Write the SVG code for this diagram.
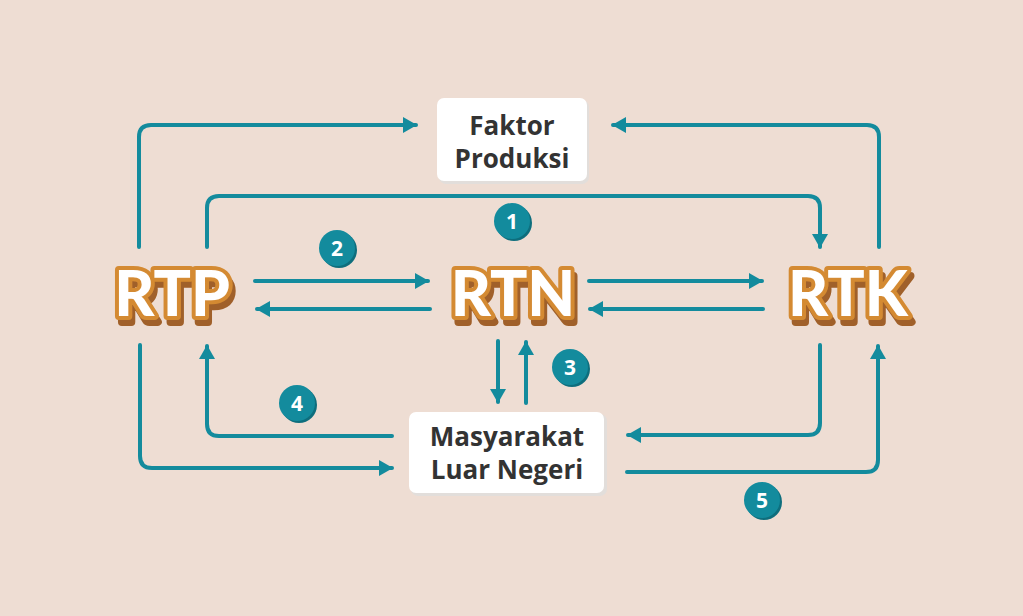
<svg xmlns="http://www.w3.org/2000/svg" width="1023" height="616" viewBox="0 0 1023 616">
<defs>
<style>
.ln{fill:none;stroke:#138B9D;stroke-width:4;stroke-linecap:round;stroke-linejoin:round}
.box{fill:#FFFFFF}
.boxsh{fill:#E2DEDB}
.bt{font-family:"Open Sans",Lato,sans-serif;font-weight:700;font-size:26px;fill:#333333;text-anchor:middle}
.big{font-family:Lato,"Open Sans",sans-serif;font-weight:900;font-size:62px;text-anchor:middle;stroke-linejoin:round;paint-order:stroke;fill:#FFFFFF;stroke:#D48A32;stroke-width:8;filter:url(#sh)}
.num{font-family:"Open Sans",Lato,sans-serif;font-weight:700;font-size:21px;fill:#FFFFFF;text-anchor:middle}
.cir{fill:#138B9D}
.cirsh{fill:#0E6E7D}
</style>
<filter id="sh" x="-20%" y="-20%" width="140%" height="150%">
<feFlood flood-color="#A0602A" result="c"/>
<feComposite in="c" in2="SourceAlpha" operator="in" result="s"/>
<feOffset in="s" dx="3" dy="6" result="o"/>
<feMerge><feMergeNode in="o"/><feMergeNode in="SourceGraphic"/></feMerge>
</filter>
<marker id="ah" viewBox="0 0 14 16" refX="13" refY="8" markerWidth="14" markerHeight="16" markerUnits="userSpaceOnUse" orient="auto">
<path d="M0,0 L14,8 L0,16 Z" fill="#138B9D"/>
</marker>
</defs>
<rect width="1023" height="616" fill="#EEDDD3"/>
<g id="connectors">
<path class="ln" d="M139,247 V137 Q139,125 151,125 H416" marker-end="url(#ah)"/>
<path class="ln" d="M207,247 V208 Q207,196 219,196 H808 Q820,196 820,208 V247" marker-end="url(#ah)"/>
<path class="ln" d="M879,247 V137 Q879,125 867,125 H613" marker-end="url(#ah)"/>
<path class="ln" d="M255,281 H428" marker-end="url(#ah)"/>
<path class="ln" d="M430,309 H257" marker-end="url(#ah)"/>
<path class="ln" d="M589,281 H762" marker-end="url(#ah)"/>
<path class="ln" d="M763,309 H590" marker-end="url(#ah)"/>
<path class="ln" d="M498,341 V402" marker-end="url(#ah)"/>
<path class="ln" d="M526,403 V342" marker-end="url(#ah)"/>
<path class="ln" d="M392,436 H219 Q207,436 207,424 V346" marker-end="url(#ah)"/>
<path class="ln" d="M140,345 V456 Q140,468 152,468 H392" marker-end="url(#ah)"/>
<path class="ln" d="M820,345 V423 Q820,435 808,435 H628" marker-end="url(#ah)"/>
<path class="ln" d="M627,472 H866 Q878,472 878,460 V346" marker-end="url(#ah)"/>
</g>
<g id="faktor-produksi">
<rect class="boxsh" x="439" y="100" width="150" height="84" rx="7"/>
<rect class="box" x="437" y="98" width="150" height="83" rx="7"/>
<text class="bt" x="512" y="135">Faktor</text>
<text class="bt" x="512" y="168">Produksi</text>
</g>
<g id="masyarakat-luar-negeri">
<rect class="boxsh" x="411" y="414" width="196" height="82" rx="7"/>
<rect class="box" x="409" y="412" width="195" height="81" rx="7"/>
<text class="bt" x="507" y="446">Masyarakat</text>
<text class="bt" x="507" y="479">Luar Negeri</text>
</g>
<g id="rtp">
<text class="big" x="172" y="316">RTP</text>
</g>
<g id="rtn">
<text class="big" x="513" y="316">RTN</text>
</g>
<g id="rtk">
<text class="big" x="848" y="316">RTK</text>
</g>
<g id="badge-1">
<circle class="cirsh" cx="514" cy="223" r="18"/>
<circle class="cir" cx="512" cy="221" r="18"/>
<text class="num" x="512" y="229">1</text>
</g>
<g id="badge-2">
<circle class="cirsh" cx="339" cy="250" r="18"/>
<circle class="cir" cx="337" cy="248" r="18"/>
<text class="num" x="337" y="256">2</text>
</g>
<g id="badge-3">
<circle class="cirsh" cx="572" cy="369" r="18"/>
<circle class="cir" cx="570" cy="367" r="18"/>
<text class="num" x="570" y="375">3</text>
</g>
<g id="badge-4">
<circle class="cirsh" cx="299" cy="405" r="18"/>
<circle class="cir" cx="297" cy="403" r="18"/>
<text class="num" x="297" y="411">4</text>
</g>
<g id="badge-5">
<circle class="cirsh" cx="764" cy="502" r="18"/>
<circle class="cir" cx="762" cy="500" r="18"/>
<text class="num" x="762" y="508">5</text>
</g>
</svg>
